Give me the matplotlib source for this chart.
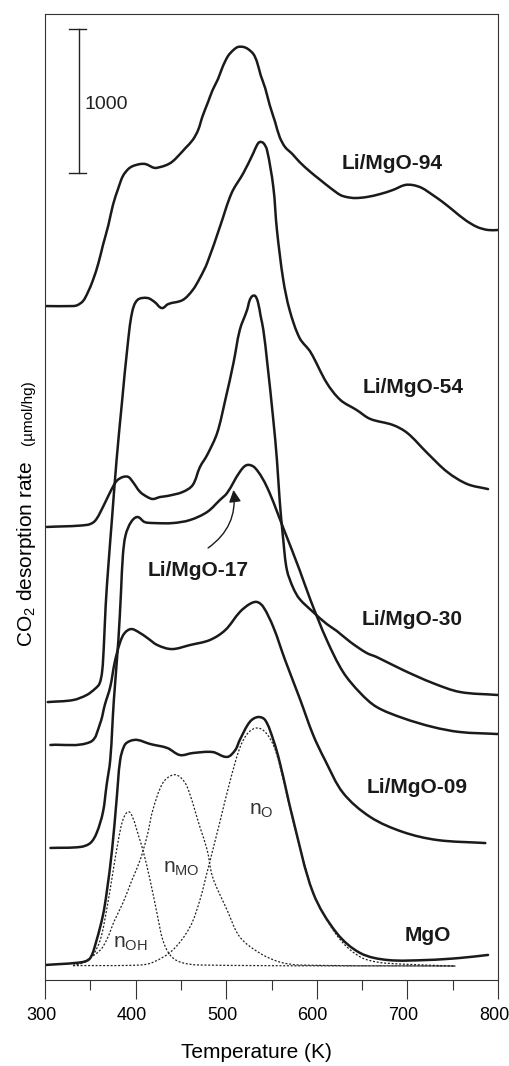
import matplotlib
matplotlib.use('Agg')
import matplotlib.pyplot as plt
import matplotlib.transforms as mtransforms
from matplotlib.path import Path
from matplotlib.patches import PathPatch
import numpy as np

plt.rcParams['font.family'] = ['Liberation Sans', 'DejaVu Sans']

# temperature (K) and stacked CO2 desorption rate (umol/hg, curves offset vertically)
t_94 = [300, 331, 336, 342, 347, 353, 359, 364, 370, 375, 381, 386, 392, 397, 405, 411, 416, 421, 427, 434,
        440, 447, 455, 463, 469, 474, 480, 485, 491, 496, 502, 508, 513, 519, 524, 530, 534, 538, 543, 548,
        554, 559, 565, 573, 581, 593, 604, 615, 626, 633, 642, 655, 670, 684, 697, 706, 716, 728, 739, 750,
        764, 777, 789, 800]
r_94 = [4680, 4680, 4687, 4715, 4771, 4861, 4979, 5104, 5243, 5382, 5500, 5583, 5632, 5652, 5666, 5666, 5652,
        5639, 5645, 5659, 5680, 5722, 5777, 5833, 5902, 6000, 6097, 6180, 6257, 6340, 6416, 6458, 6479, 6479,
        6465, 6430, 6375, 6284, 6194, 6076, 5958, 5854, 5784, 5736, 5680, 5611, 5555, 5500, 5451, 5437, 5430,
        5437, 5458, 5486, 5520, 5520, 5500, 5451, 5402, 5347, 5277, 5229, 5208, 5208]

t_54 = [303, 331, 346, 355, 360, 363, 365, 367, 370, 374, 379, 385, 391, 396, 402, 413, 421, 429, 436, 452,
        463, 471, 479, 493, 506, 519, 530, 534, 537, 541, 545, 552, 556, 563, 570, 581, 593, 611, 626, 644,
        659, 684, 700, 722, 744, 766, 789]
r_54 = [1930, 1944, 1979, 2021, 2056, 2139, 2326, 2604, 2882, 3208, 3611, 4014, 4396, 4632, 4722, 4736, 4708,
        4666, 4694, 4722, 4791, 4875, 4979, 5229, 5465, 5604, 5743, 5798, 5819, 5812, 5764, 5507, 5208, 4861,
        4652, 4458, 4361, 4146, 4028, 3958, 3896, 3854, 3798, 3659, 3528, 3444, 3409]

t_30 = [302, 346, 355, 364, 372, 379, 386, 392, 397, 405, 413, 419, 427, 435, 452, 463, 471, 479, 490, 499,
        508, 515, 523, 526, 529, 532, 535, 538, 541, 545, 552, 556, 559, 563, 567, 574, 581, 596, 611, 622,
        637, 655, 666, 695, 728, 758, 800]
r_30 = [3146, 3160, 3187, 3285, 3389, 3465, 3493, 3493, 3458, 3389, 3354, 3340, 3354, 3361, 3389, 3437, 3562,
        3646, 3798, 4028, 4284, 4514, 4652, 4722, 4750, 4750, 4708, 4611, 4514, 4305, 3889, 3611, 3333, 3055,
        2847, 2722, 2646, 2555, 2472, 2424, 2347, 2271, 2243, 2153, 2062, 2000, 1979]

t_17 = [306, 339, 350, 357, 364, 368, 372, 376, 381, 384, 386, 389, 395, 402, 410, 421, 441, 460, 479, 493,
        501, 515, 523, 532, 545, 563, 581, 593, 611, 629, 648, 666, 695, 728, 758, 800]
r_17 = [917, 924, 951, 1021, 1167, 1354, 1528, 1944, 2361, 2708, 2951, 3090, 3180, 3215, 3180, 3173, 3173,
        3194, 3250, 3333, 3382, 3528, 3576, 3555, 3423, 3139, 2847, 2639, 2361, 2139, 1993, 1896, 1819, 1757,
        1722, 1708]

t_09 = [306, 350, 361, 366, 372, 377, 383, 388, 395, 403, 413, 424, 440, 460, 482, 499, 515, 526, 534, 541,
        552, 565, 581, 596, 609, 629, 659, 695, 733, 786]
r_09 = [1632, 1653, 1785, 1910, 2035, 2208, 2347, 2410, 2437, 2417, 2375, 2326, 2298, 2326, 2361, 2430, 2555,
        2611, 2625, 2590, 2451, 2222, 1958, 1701, 1528, 1299, 1132, 1028, 972, 951]

t_mgo = [300, 342, 350, 357, 364, 368, 374, 379, 383, 388, 394, 402, 416, 435, 449, 463, 485, 501, 510, 515,
         526, 535, 543, 552, 559, 574, 596, 622, 648, 678, 722, 758, 789]
r_mgo = [104, 125, 153, 278, 451, 604, 903, 1250, 1528, 1632, 1660, 1667, 1639, 1611, 1562, 1576, 1583, 1549,
         1597, 1667, 1792, 1826, 1805, 1667, 1514, 1111, 604, 326, 187, 139, 139, 153, 174]

# deconvoluted MgO sites
t_oh = [331, 344, 353, 361, 368, 375, 381, 386, 392, 397, 403, 408, 416, 424, 430, 438, 449, 471, 753]
r_oh = [100, 125, 174, 278, 486, 750, 972, 1111, 1167, 1125, 1007, 903, 694, 451, 278, 174, 125, 104, 97]

t_mo = [331, 346, 361, 368, 377, 386, 396, 405, 413, 419, 430, 441, 449, 457, 471, 479, 485, 501, 515, 537,
        559, 581, 753]
r_mo = [100, 139, 208, 278, 417, 535, 694, 833, 1007, 1180, 1368, 1424, 1410, 1340, 1062, 903, 715, 486, 299,
        187, 125, 104, 97]

t_o = [331, 405, 420, 441, 460, 471, 479, 493, 504, 515, 524, 534, 543, 552, 559, 574, 587, 596, 611, 629,
       648, 666, 692, 753]
r_o = [100, 104, 125, 208, 368, 556, 750, 1097, 1375, 1611, 1715, 1750, 1722, 1632, 1493, 1097, 792, 604,
       417, 257, 160, 125, 111, 97]

samples = ['Li/MgO-94', 'Li/MgO-54', 'Li/MgO-30', 'Li/MgO-17', 'Li/MgO-09', 'MgO']
curves = [(t_94, r_94), (t_54, r_54), (t_30, r_30), (t_17, r_17), (t_09, r_09), (t_mgo, r_mgo)]
label_xy = [(683, 5673), (706, 4111), (705, 2500), (469, 2847), (711, 1340), (722, 312)]


def smooth_line(ax, t, r, **kw):
    # draw the read points joined by smooth cubic segments (tangents from neighbours)
    pts = ax.transData.transform(np.column_stack([t, r]))
    n = len(pts)
    verts = [pts[0]]
    codes = [Path.MOVETO]
    for i in range(n - 1):
        p0, p1 = pts[i], pts[i + 1]
        a = pts[i - 1] if i > 0 else p0
        b = pts[i + 2] if i + 2 < n else p1
        seg = np.hypot(*(p1 - p0))
        d0 = p1 - a
        d1 = b - p0
        d0 = d0 / np.hypot(*d0)
        d1 = d1 / np.hypot(*d1)
        verts += [p0 + d0 * seg / 3, p1 - d1 * seg / 3, p1]
        codes += [Path.CURVE4] * 3
    verts = ax.transData.inverted().transform(np.array(verts))
    ax.add_patch(PathPatch(Path(verts, codes), fill=False, **kw))


fig = plt.figure(figsize=(5.10, 10.66), dpi=100)
ax = fig.add_axes([45/510, 1-980/1066, 453/510, 966/1066])
ax.set_xlim(300, 800)
ax.set_ylim(0, 6708)

for (t, r) in curves:
    smooth_line(ax, t, r, edgecolor='#1a1a1a', lw=1.8, capstyle='round', joinstyle='round')
for (t, r) in [(t_oh, r_oh), (t_mo, r_mo), (t_o, r_o)]:
    smooth_line(ax, t, r, edgecolor='#222222', lw=0.9, linestyle=(0, (1.6, 1.4)))

for name, (x, y) in zip(samples, label_xy):
    ax.text(x, y, name, fontsize=15, fontweight='bold', ha='center', va='center', color='#1a1a1a')

ax.annotate('', xy=(508, 3403), xytext=(480, 3000),
            arrowprops=dict(arrowstyle='-|>', color='#1a1a1a', lw=1.0, mutation_scale=18,
                            shrinkA=0, shrinkB=0, connectionstyle='arc3,rad=0.3'))

# site labels
ax.text(525, 1153, r'n$_\mathregular{O}$', fontsize=15, ha='left', va='baseline', color='#333333')
ax.text(430, 750, r'n$_\mathregular{MO}$', fontsize=15, ha='left', va='baseline', color='#333333')
ax.text(375, 229, r'n$_\mathregular{OH}$', fontsize=15, ha='left', va='baseline', color='#333333')

# scale bar
ax.plot([337.5, 337.5], [5604, 6604], color='#222222', lw=1.0)
ax.plot([326.5, 345], [6604, 6604], color='#222222', lw=1.0)
ax.plot([326.5, 345], [5604, 5604], color='#222222', lw=1.0)
ax.text(344, 6083, '1000', fontsize=14, ha='left', va='center', color='#222222')

ax.set_xticks([300, 400, 500, 600, 700, 800])
ax.set_xticks([350, 450, 550, 650, 750], minor=True)
ax.set_yticks([])
ax.tick_params(axis='x', which='major', direction='out', length=13.7, width=0.8, labelsize=13, pad=6,
               color='#333333')
ax.tick_params(axis='x', which='minor', direction='out', length=7.2, width=0.8, color='#333333')
shift = mtransforms.ScaledTranslation(-0.04, 0, fig.dpi_scale_trans)
for lab in ax.get_xticklabels():
    lab.set_transform(lab.get_transform() + shift)
for s in ax.spines.values():
    s.set_linewidth(0.8)
    s.set_color('#333333')

ax.set_xlabel('Temperature (K)', fontsize=15)
ax.xaxis.set_label_coords((256-45)/453, -(1053-980)/966)
ax.xaxis.label.set_va('center')

fig.text(32/510, 1-647/1066, r'CO$_\mathregular{2}$ desorption rate', fontsize=15, rotation=90,
         rotation_mode='anchor', ha='left', va='baseline')
fig.text(32/510, 1-380/1066, '(µmol/hg)', fontsize=11, rotation=90,
         rotation_mode='anchor', ha='right', va='baseline')

fig.savefig('out.png', dpi=100)
